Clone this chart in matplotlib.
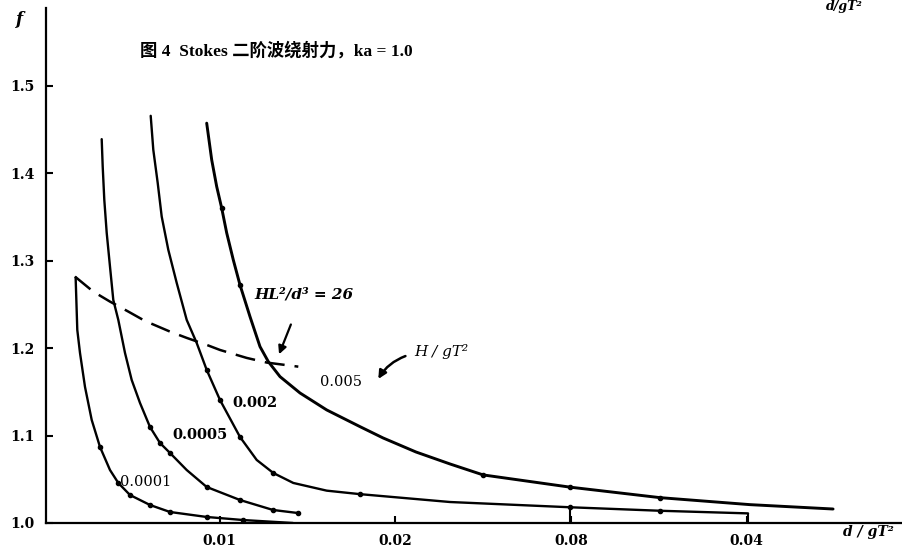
import numpy as np
import matplotlib
matplotlib.use("Agg")
import matplotlib.pyplot as plt

# f vs d/gT^2, one curve per H/gT^2
x_0001 = [0.00180, 0.001895, 0.002049, 0.002334, 0.002715, 0.003187, 0.003756, 0.004229,
          0.004895, 0.006033, 0.007171, 0.009260, 0.011326, 0.014172]
f_0001 = [1.281, 1.2208, 1.1945, 1.1556, 1.1179, 1.0870, 1.0606, 1.0458,
          1.0320, 1.0206, 1.0126, 1.0069, 1.0034, 1.0000]

x_0005 = [0.003284, 0.003341, 0.003432, 0.003569, 0.003756, 0.003944, 0.004229, 0.004610,
          0.004991, 0.005464, 0.006033, 0.006602, 0.007171, 0.008122, 0.009260, 0.011155,
          0.013034, 0.014456]
f_0005 = [1.4390, 1.4077, 1.3696, 1.3318, 1.2933, 1.2551, 1.2323, 1.1945,
          1.1636, 1.1373, 1.1098, 1.0915, 1.0801, 1.0606, 1.0412, 1.0263,
          1.0149, 1.0114]

x_002 = [0.006073, 0.006221, 0.006471, 0.006699, 0.007075, 0.007553, 0.008122, 0.008691,
         0.009260, 0.010017, 0.011155, 0.012106, 0.013051, 0.014189, 0.016090, 0.017985,
         0.02311, 0.02994, 0.03506, 0.04007]
f_002 = [1.4657, 1.4268, 1.3890, 1.3505, 1.3124, 1.2746, 1.2323, 1.2059,
         1.1751, 1.1407, 1.0984, 1.0721, 1.0572, 1.0458, 1.0370, 1.0330,
         1.024, 1.018, 1.014, 1.011]

x_005 = [0.009260, 0.009545, 0.009829, 0.010114, 0.010398, 0.010774, 0.011155, 0.011725,
         0.012294, 0.012766, 0.013432, 0.014570, 0.016090, 0.017985, 0.019294, 0.021172,
         0.02311, 0.02499, 0.02994, 0.03506, 0.04018, 0.04491]
f_005 = [1.4573, 1.4153, 1.3848, 1.3601, 1.3318, 1.3009, 1.2723, 1.2360,
         1.2017, 1.1846, 1.1674, 1.1487, 1.1293, 1.1102, 1.0973, 1.0812,
         1.0675, 1.055, 1.041, 1.029, 1.021, 1.016]

# HL^2/d^3 = 26 boundary
x_bound = [0.001764, 0.002806, 0.003756, 0.004798, 0.005748, 0.007171, 0.008122, 0.009260,
           0.010017, 0.011537, 0.012675, 0.014474]
f_bound = [1.2818, 1.2646, 1.2532, 1.2418, 1.2311, 1.2189, 1.2117, 1.2037,
           1.1979, 1.1888, 1.1835, 1.1788]

xticks = [0.01, 0.02, 0.03, 0.04]
xticklabels = ["0.01", "0.02", "0.08", "0.04"]
yticks = [1.0, 1.1, 1.2, 1.3, 1.4, 1.5]
yticklabels = ["1.0", "1.1", "1.2", "1.3", "1.4", "1.5"]

serif = "DejaVu Serif"
cjk = ["Liberation Serif", "Noto Sans CJK SC"]

fig = plt.figure(figsize=(9.03, 5.52), dpi=100)
ax = fig.add_axes([46/903, 29/552, 857/903, 515/552])

lw = 1.7
mk = dict(c='k', marker='o', ms=3, solid_joinstyle='round', solid_capstyle='round')
ax.plot(x_0001, f_0001, lw=lw, markevery=[5, 7, 8, 9, 10, 11, 12], **mk)
ax.plot(x_0005, f_0005, lw=lw, markevery=[10, 11, 12, 14, 15, 16, 17], **mk)
ax.plot(x_002, f_002, lw=lw, markevery=[8, 9, 10, 12, 15, 17, 18], **mk)
ax.plot(x_005, f_005, lw=lw + 0.4, markevery=[3, 6, 17, 18, 19], **mk)
ax.plot(x_bound, f_bound, c='k', lw=1.8, ls=(0, (8, 4)))

# small end bars on the 0.002 curve
ax.vlines([0.02994, 0.04007], 1.0, [1.018, 1.011], colors='k', lw=1.5)

ax.set_xlim(0.000114, 0.04889)
ax.set_ylim(1.0, 1.589)
for s in ['top', 'right']:
    ax.spines[s].set_visible(False)
for s in ['left', 'bottom']:
    ax.spines[s].set_linewidth(1.6)
ax.set_xticks(xticks)
ax.set_xticklabels(xticklabels, family=serif, weight='bold', fontsize=10)
ax.set_yticks(yticks)
ax.set_yticklabels(yticklabels, family=serif, weight='bold', fontsize=10)
ax.tick_params(direction='in', length=5, width=1.5, pad=8)

# curve labels
ax.text(0.00433, 1.047, "0.0001", family=serif, fontsize=10.5, va='center')
ax.text(0.00729, 1.101, "0.0005", family=serif, weight='bold', fontsize=10.5, va='center')
ax.text(0.0107, 1.137, "0.002", family=serif, weight='bold', fontsize=10.5, va='center')
ax.text(0.01571, 1.161, "0.005", family=serif, fontsize=10.5, va='center')
ax.text(0.0211, 1.196, "H / gT²", family=serif, style='italic', fontsize=11, va='center')
ax.text(0.0120, 1.261, "HL²/d³ = 26", family=serif, style='italic', weight='bold',
        fontsize=11, va='center')
ax.annotate("", xy=(0.01332, 1.190), xytext=(0.01411, 1.230),
            arrowprops=dict(arrowstyle='-|>', color='k', lw=1.6, mutation_scale=12))
ax.annotate("", xy=(0.01895, 1.162), xytext=(0.02072, 1.192),
            arrowprops=dict(arrowstyle='-|>', color='k', lw=1.8, mutation_scale=12,
                            connectionstyle='arc3,rad=0.2'))

# axis labels and title
fig.text(20/903, 1 - 20/552, "f", family=serif, style='italic', weight='bold',
         fontsize=12, ha='center', va='center')
fig.text(843/903, 1 - 532/552, "d / gT²", family=serif, style='italic', weight='bold',
         fontsize=10, ha='left', va='center')
fig.text(826/903, 1.0, "d/gT²", family=serif, style='italic', weight='bold',
         fontsize=9, ha='left', va='top')
fig.text(276/903, 1 - 51/552, "图 4  Stokes 二阶波绕射力，ka = 1.0", family=cjk,
         weight='bold', fontsize=12.5, ha='center', va='center')

fig.savefig("out.png", dpi=100)
